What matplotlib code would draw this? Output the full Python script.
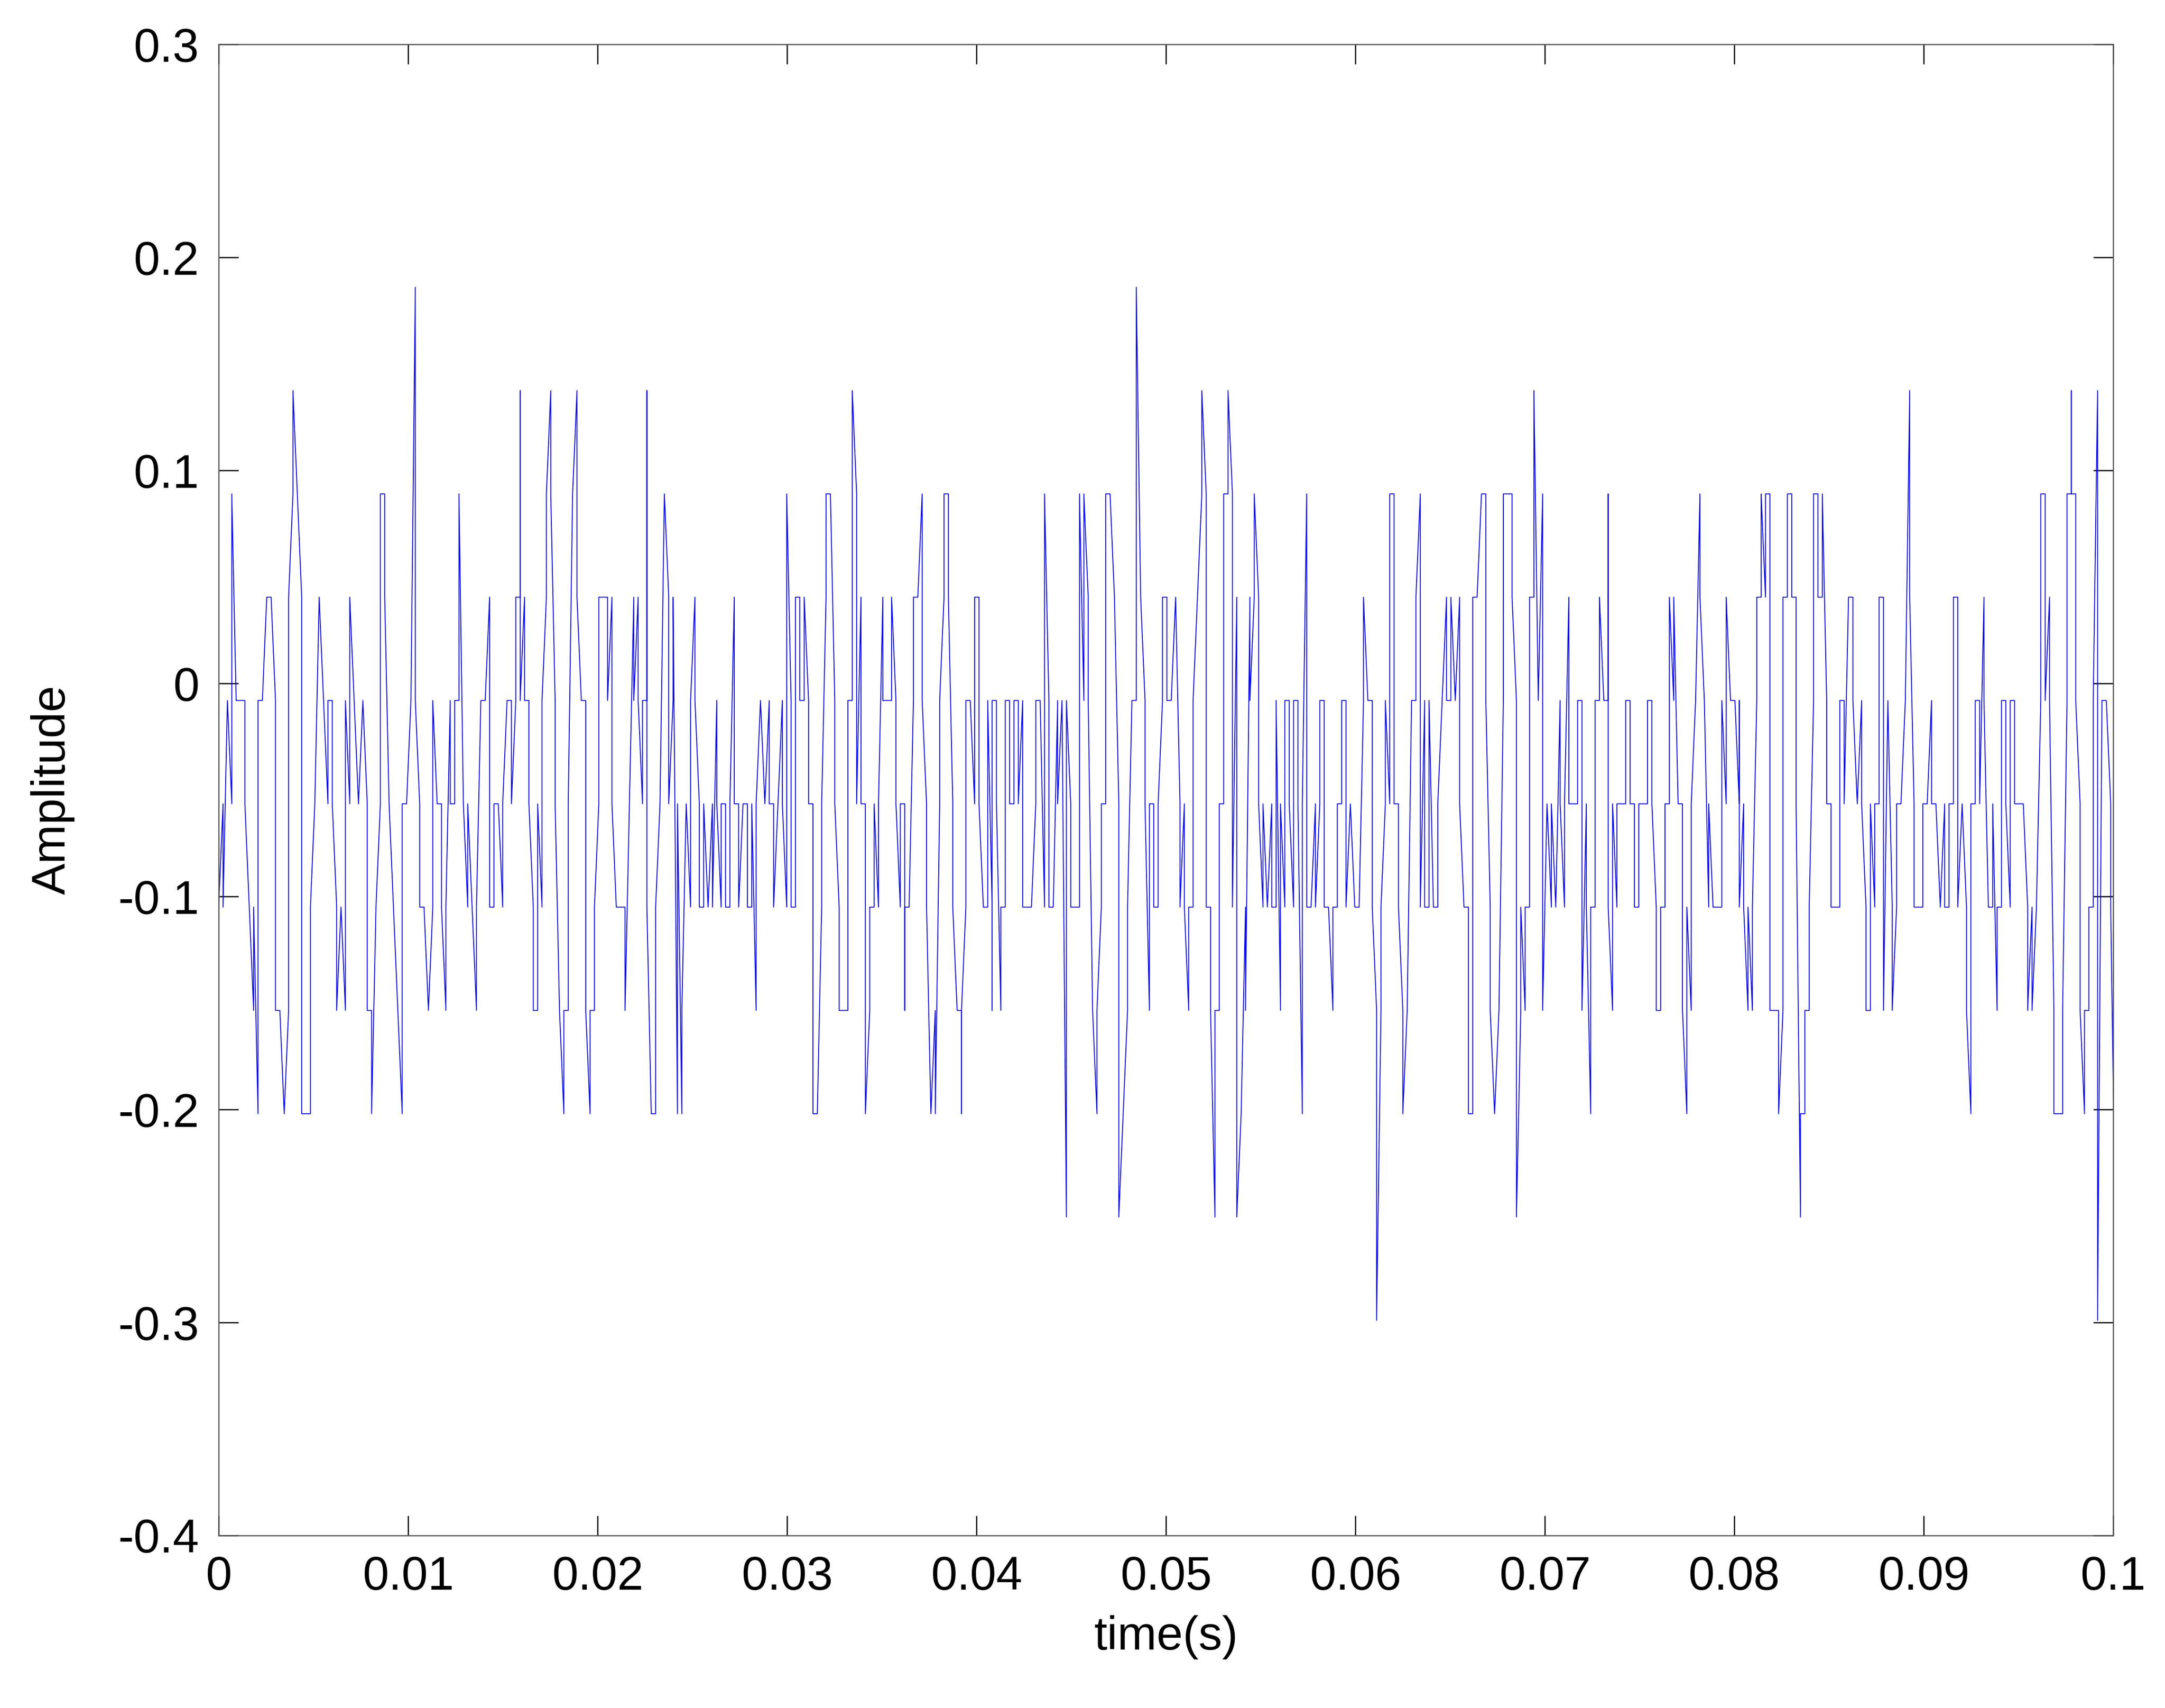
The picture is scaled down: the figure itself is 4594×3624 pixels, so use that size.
import numpy as np
import matplotlib
matplotlib.use("Agg")
import matplotlib.pyplot as plt

# quantised amplitude levels: value = offset + step * level
step = 0.0485
offset = -0.008
dt = 2.3066e-4  # spacing between sample instants (s)

# one token per sample instant; "a:b" = vertical jump at the same instant
samples = """
-3:-2 -1:-2 0 -1:2 0 0 0:-1 -2 -3:-2 -4:0 0 1 1 0:-3 -3 -4 -3:1 2:3 2 1:-4
-4 -4:-2 -1 1 0 -1:0 0:-1 -2:-3 -2 -3:0 -1:1 0 -1 0 -1:-3 -3:-4 -2 -1:2 2:1 -1
-2 -3 -4:-1 -1 0 4:0 -1:-2 -2 -3 -2:0 -1 -1:-2 -3:-2 0:-1 -1:0 0:2 -1 -2:-1 -2 -3:-2
0 0 1:-2 -2:-1 -1 -2:-1 0 0:-1 0:1 1:3:0 1:0 0:-1 -2:-3
-3:-1 -2:0 1:2 3:2 0:-1 -3 -4:-3 -3:-1 2 3:1 0 0:-3 -4:-3 -3:-2 -1:1 1 1:0 1:-1 -2 -2
-2:-3 -1 1:0 1:0 -1:0 0:3:-2 -4 -4:-2 -1 2 1:-1 0:1 -4:-1 -4:-3 -1 -2:0 1:0 -1:-2 -2:-1 -2
-1:-2 0:-1 -2:-1 -1:-2 -2:-1 1:-1 -1:-2 -1 -1:-2 -2:-1 -3:-1 0 -1 0:-1 -1:-2 -1 0:-1 -2:2 0:-2 -2:1
1:0 0:1 0:-1 -1:-4 -4 -2:-1 1:2 2 0:-1 -2:-3 -3 -3:0 0:3
2:-1 1:-1 -1:-4 -3:-2 -2:-1 -2:-1 1:0 0 0:1 0:-1 -2:-1 -1:-3:-2 -2 0:1 1 2:0 -1:-2 -4 -3:-4 -1:0
1:2 2:1 -1:-2 -3 -3:-4:-3 -2:0 0 -1:1 1:-1 -2 -2:0 -2:-3:0 0:-1 -3:-2 -2:0 0:-1 -1:0 0:-1 0:-2 -2
-2 -1:0 0 -2:2 0:-2 -2 0:-1 0 -5:0 -1:-2 -2 -2:2 0:2 1:0 -3 -4:-3 -2:-1 -1:2 2 1
-1:-5 -4 -3:-2 0 0:4 1 0:-1 -3:-1 -1:-2 -2:-1 0:1 1:0
0 1 -1:-2 -1:-2 -3:-2 -2:0 1 2:3 2:-2 -2:-3 -5:-3 -3:-1 -1:2 2:3 2:-2 1:-5 -4 -2:-3 1:0 1:2
1:-1 -2:-1 -2 -1:-2 -2:0 -3:-1 -2:0 0:-1 -2:0 0:-1 -4:-1 2:-2 -2 -1:-2 -1:0 0:-2 -2 -3:-2 -2:-1 -1:0
0:-2 -1 -2 -2 0:1 0 0:-2 -3:-6 -3:-2 -1:0 -1:2 2:-1 -1:-2 -3:-4 -3 0 0:1 2:-2 0:-2 -2:0
-2 -2:-1 0 1:0 0:1 0 1:-1 -2 -2:-4 -4:1 1 2
2:0 -2:-3 -4 -3 0:2 2 2:1 0:-5 -3:-2 -3:-2 -2:1 1:3 0 2:-3 -1 -2:-1 -2 0:-1 -2:-1 1:-1
-1 -1:0 0:-3 -1:-2 -4:-2 -2:0 0:1 0 0:2:-2 -3:-1 -2:-1 -1 -1:0 0:-1 -1:-2 -2:-1 -1 -1:0 0:-1 -2:-3
-3:-2 -2:-1 -1:1 0:1 -1 -1:-3 -4:-2 -3:-1 0 2:1 0 -2:-1 -2 -2 -2:0 -1:1 0 0 -1:0:-2 -1:-2
-3:-2 -3:-2 0:1 1:2 1:2 2:-3 -3 -3:-4 -3:1 1:2 2:1 1:-1
-5:-4 -4:-3 -3:-2 0:2 2:1 1:2 0:-1 -1:-2 -2 -2:0 0:-1 1 1:0 -1 0:-1 -2:-3 -3:-1 -2:-1 -1:1 1:-3
0 -2:-3 -2:-1 -1 0 3:1 -1:-2 -2 -2:-1 -1 0:-1 -1 -2 -1:-2 -2:-1 -1:0:1 1:-2 -1 -2:-3 -4:-1
-1:0 0:-1 1:0 -2 -2:-1 -3:-2 -2:0 0:-1 -2:0 0:-1 -1 -1 -2:-3 -2:-3 -2 0:2 2:0 1:0 -3:-4 -4
-4:-3 0:2 2:3:2 2:0 -1:-3 -4:-3 -3:-2 -2:0 3:-6 0 0 -1:-2 -5
""".split()

t = []
amp = []
for k, tok in enumerate(samples):
    for lev in tok.split(":"):
        t.append(k * dt)
        amp.append(offset + step * int(lev))

plt.rcParams['font.family'] = ['Liberation Sans', 'DejaVu Sans']
fig = plt.figure(figsize=(4594 / 300, 3624 / 300), dpi=300)
ax = fig.add_axes([0.101, 0.101, 0.875, 0.873])
ax.plot(t, amp, color='#0000ff', lw=0.45)

ax.set_xlim(0, 0.1)
ax.set_ylim(-0.4, 0.3)
xt = np.arange(0, 0.1001, 0.01)
ax.set_xticks(xt)
ax.set_xticklabels(['%g' % round(v, 2) for v in xt])
yt = np.arange(-0.4, 0.3001, 0.1)
ax.set_yticks(yt)
ax.set_yticklabels(['%g' % (round(v, 1) + 0.0) for v in yt])
ax.tick_params(direction='in', top=True, right=True, labelsize=24,
               length=10, width=0.6, pad=10)
for s in ax.spines.values():
    s.set_linewidth(0.6)
    s.set_color('#555555')

ax.set_xlabel('time(s)', fontsize=24, labelpad=8)
ax.set_ylabel('Amplitude', fontsize=24, labelpad=22)

plt.savefig('out.png', dpi=300)
